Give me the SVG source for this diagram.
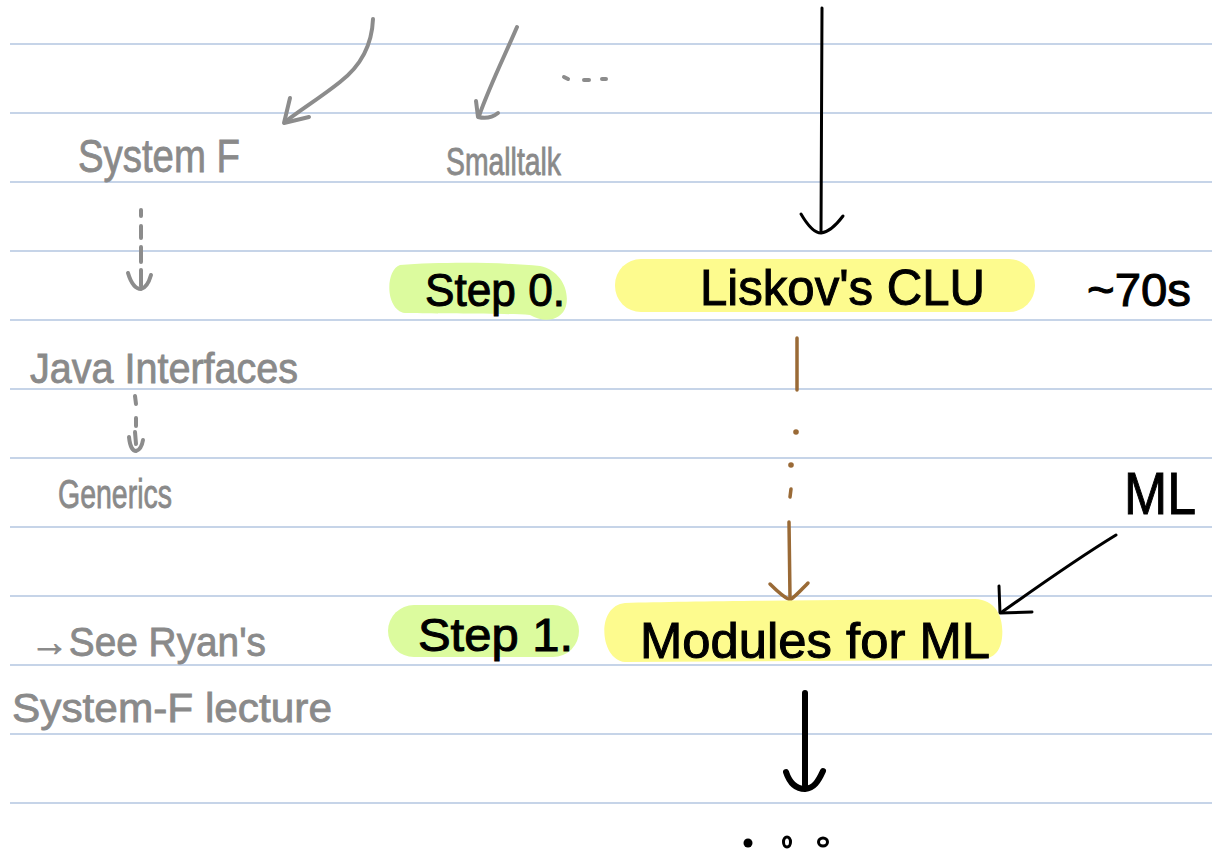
<svg xmlns="http://www.w3.org/2000/svg" width="1212" height="851" viewBox="0 0 1212 851">
<style>
.rule{stroke:#b3c6e0;stroke-width:1.3}
.g{fill:#8a8a8a;stroke:#8a8a8a;stroke-width:0.8;font-family:"Liberation Sans",sans-serif}
.b{fill:#000;stroke:#000;stroke-width:1;font-family:"Liberation Sans",sans-serif}
.gs{fill:none;stroke:#8c8c8c;stroke-width:4;stroke-linecap:round;stroke-linejoin:round}
.bs{fill:none;stroke:#000;stroke-width:3;stroke-linecap:round;stroke-linejoin:round}
.br{fill:none;stroke:#9a6a36;stroke-width:3.5;stroke-linecap:round;stroke-linejoin:round}
.green{fill:#dcfb9e}
.yellow{fill:#fdfb8e}
</style>
<rect width="1212" height="851" fill="#fff"/>
<g id="rules">
<line class="rule" x1="10" y1="44" x2="1212" y2="44"/>
<line class="rule" x1="10" y1="113" x2="1212" y2="113"/>
<line class="rule" x1="10" y1="182" x2="1212" y2="182"/>
<line class="rule" x1="10" y1="251" x2="1212" y2="251"/>
<line class="rule" x1="10" y1="320" x2="1212" y2="320"/>
<line class="rule" x1="10" y1="389" x2="1212" y2="389"/>
<line class="rule" x1="10" y1="458" x2="1212" y2="458"/>
<line class="rule" x1="10" y1="527" x2="1212" y2="527"/>
<line class="rule" x1="10" y1="596" x2="1212" y2="596"/>
<line class="rule" x1="10" y1="665" x2="1212" y2="665"/>
<line class="rule" x1="10" y1="734" x2="1212" y2="734"/>
<line class="rule" x1="10" y1="803" x2="1212" y2="803"/>
</g>
<g id="connectors">
<path class="gs" d="M373 19 C372 45 362 65 340 82 C320 98 300 110 285 122"/>
<path class="gs" d="M290 98 L284 123 L309 117"/>
<path class="gs" d="M517 27 C505 55 490 85 479 116"/>
<path class="gs" d="M476 101 L478 117 C486 119 493 117 498 113"/>
<path class="gs" d="M141 210 L141 216 M141 226 L141 238 M141 247 L141 262 M141 270 L141 286"/>
<path class="gs" d="M128 273 C131 283 135 289 141 289 C146 288 149 282 151 275"/>
<path class="gs" d="M135 396 L136 404 M136 418 L136 426 M135 432 L136 444"/>
<path class="gs" d="M129 437 C130 447 133 451 136 451 C140 450 142 446 143 440"/>
<path class="bs" d="M822 8 L821 232"/>
<path class="bs" d="M801 214 C808 226 814 233 821 233 C830 232 837 224 843 216"/>
<path class="br" d="M797 338 L797 390"/>
<circle cx="796" cy="432" r="2.8" fill="#9a6a36"/>
<circle cx="791" cy="465" r="2.8" fill="#9a6a36"/>
<path class="br" d="M791 489 L790 497"/>
<path class="br" d="M789 522 L790 598"/>
<path class="br" d="M770 584 C776 590 783 597 790 600 C797 595 802 589 808 583"/>
<path class="bs" d="M1116 535 C1075 560 1040 585 1002 612"/>
<path class="bs" d="M999 586 L1000 613 L1032 612"/>
<path d="M805 693 L805 785" fill="none" stroke="#000" stroke-width="6" stroke-linecap="round"/>
<path d="M786 772 C790 784 797 789 805 789 C814 788 818 782 823 771" fill="none" stroke="#000" stroke-width="6" stroke-linecap="round"/>
</g>
<g id="dots-top">
<path class="gs" d="M564 77 L568 79 M584 80 L589 80 M602 79 L606 79"/>
</g>
<g id="system-f"><text class="g" x="78" y="172" font-size="46" textLength="162" lengthAdjust="spacingAndGlyphs">System F</text></g>
<g id="smalltalk"><text class="g" x="446" y="175" font-size="38" textLength="115" lengthAdjust="spacingAndGlyphs">Smalltalk</text></g>
<g id="java-interfaces"><text class="g" x="30" y="383" font-size="42" textLength="268" lengthAdjust="spacingAndGlyphs">Java Interfaces</text></g>
<g id="generics"><text class="g" x="58" y="508" font-size="40" textLength="114" lengthAdjust="spacingAndGlyphs">Generics</text></g>
<g id="see-ryans"><text class="g" x="30" y="656" font-size="40" textLength="236" lengthAdjust="spacingAndGlyphs">→See Ryan's</text></g>
<g id="system-f-lecture"><text class="g" x="12" y="722" font-size="40" textLength="320" lengthAdjust="spacingAndGlyphs">System-F lecture</text></g>
<g id="step0">
<path class="green" d="M400 265 C440 262 500 262 540 266 C560 270 570 290 566 306 C562 320 545 324 530 315 C500 313 440 314 405 313 C385 310 385 270 400 265 Z"/>
<text class="b" x="425" y="306" font-size="46" textLength="140" lengthAdjust="spacingAndGlyphs">Step 0.</text>
</g>
<g id="liskov">
<rect class="yellow" x="615" y="259" width="420" height="53" rx="26"/>
<text class="b" x="700" y="305" font-size="50" textLength="285" lengthAdjust="spacingAndGlyphs">Liskov's  CLU</text>
</g>
<g id="seventies"><text class="b" x="1087" y="306" font-size="46" textLength="104" lengthAdjust="spacingAndGlyphs">~70s</text></g>
<g id="step1">
<rect class="green" x="388" y="605" width="191" height="52" rx="26"/>
<text class="b" x="418" y="651" font-size="46" textLength="155" lengthAdjust="spacingAndGlyphs">Step 1.</text>
</g>
<g id="modules">
<path class="yellow" d="M625 603 C700 601 850 600 975 599 C998 600 1004 620 1002 638 C1000 655 990 660 975 660 L625 662 C600 660 595 606 625 603 Z"/>
<text class="b" x="640" y="658" font-size="50" textLength="350" lengthAdjust="spacingAndGlyphs">Modules for  ML</text>
</g>
<g id="ml"><text class="b" x="1124" y="514" font-size="60" textLength="72" lengthAdjust="spacingAndGlyphs">ML</text></g>
<g id="dots-bottom">
<circle cx="748" cy="843" r="4.5" fill="#000"/>
<ellipse cx="787" cy="842" rx="3.5" ry="5" fill="none" stroke="#000" stroke-width="3"/>
<ellipse cx="823" cy="842" rx="4.5" ry="4" fill="none" stroke="#000" stroke-width="3"/>
</g>
</svg>
